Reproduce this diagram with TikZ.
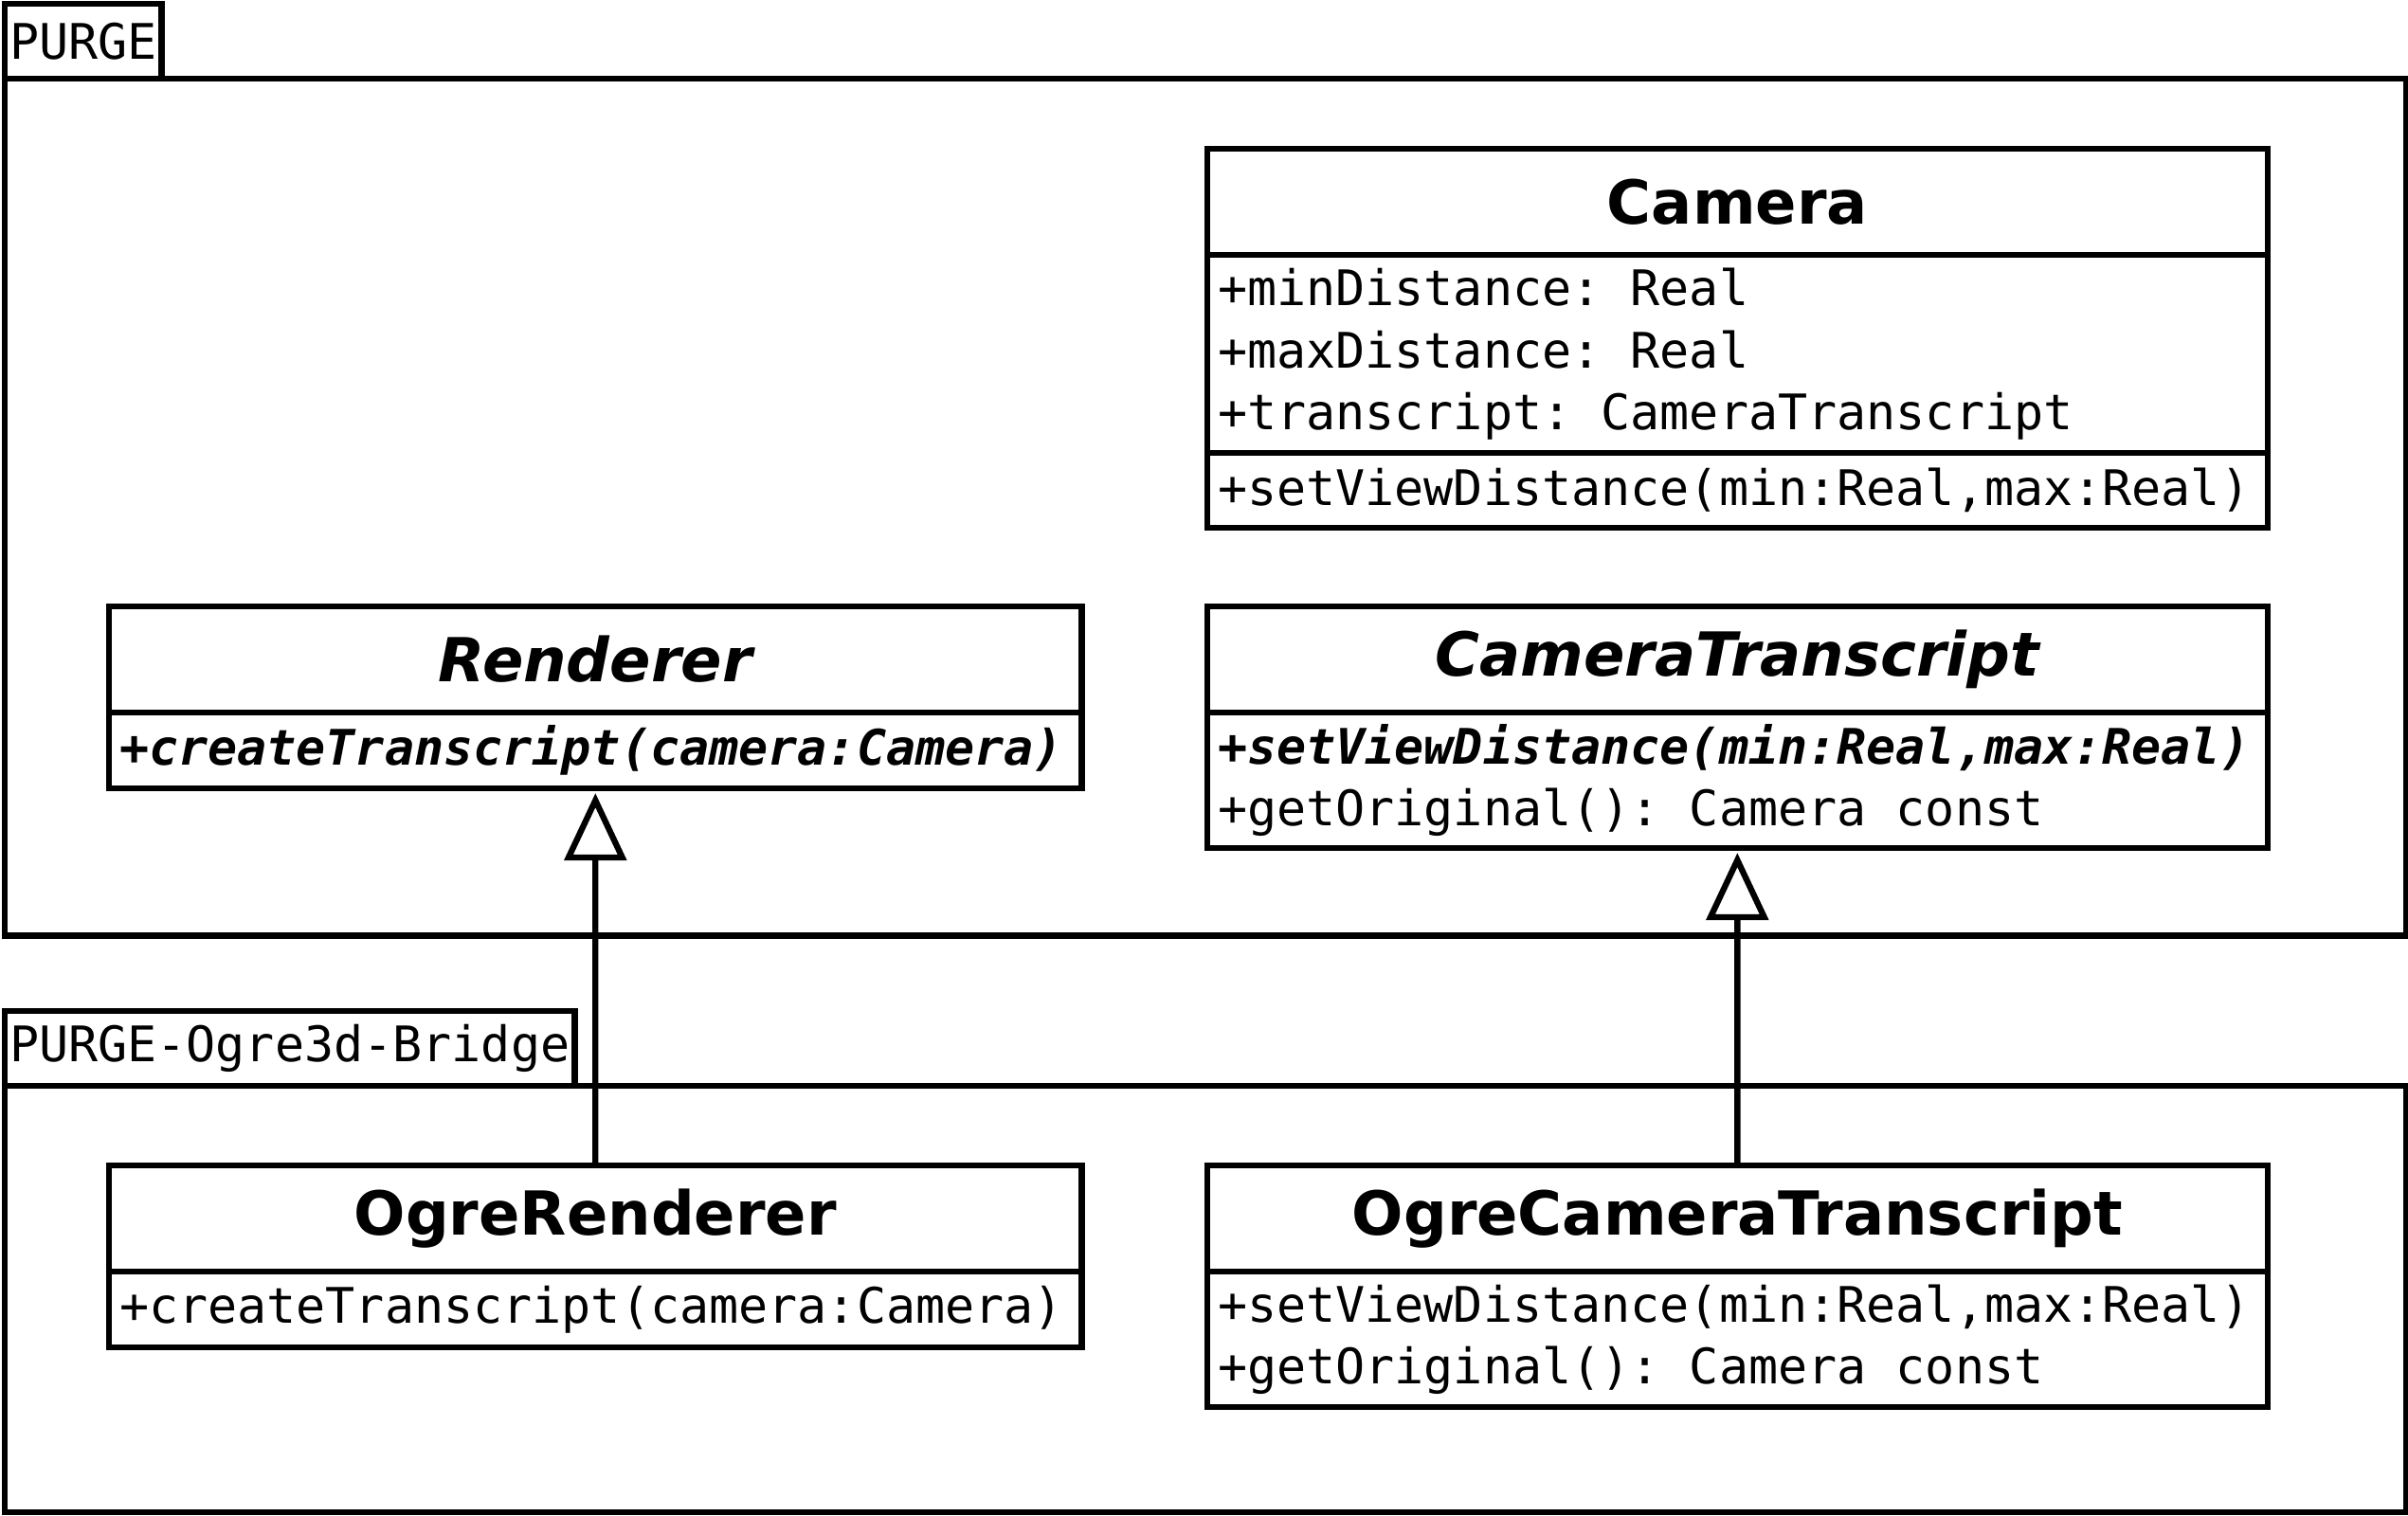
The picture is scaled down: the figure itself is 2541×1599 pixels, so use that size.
\documentclass[tikz,border=0pt]{standalone}
\usepackage{fontspec}
\newfontfamily\umlsans{DejaVu Sans}
\newfontfamily\umlmono{DejaVu Sans Mono}
\newcommand\monofont{\umlmono\fontsize{14.7}{18.5}\selectfont\frenchspacing}
\usetikzlibrary{arrows.meta}

\begin{document}
\begin{tikzpicture}[x=0.01cm,y=-0.01cm,line width=1.8pt,
  every node/.style={draw,rectangle,outer sep=0pt,anchor=north west,font=\monofont},
  pkgbody/.style={minimum width=25.33cm,inner sep=0pt},
  pkgtab/.style={anchor=south west,minimum height=0.79cm,inner xsep=0.05cm,inner ysep=0pt},
  head/.style={minimum height=1.12cm,inner sep=0pt,font=\umlsans\bfseries\fontsize{18.2}{22}\selectfont},
  abstracthead/.style={head,font=\umlsans\bfseries\itshape\fontsize{18.2}{22}\selectfont},
  memb/.style={align=left,inner xsep=0.11cm,inner ysep=0pt,
    execute at begin node={\spaceskip=0.602em\xspaceskip=0.602em\relax}},
  abstractop/.style={font=\monofont\bfseries\itshape},
  >={Triangle[open,width=0.65cm,length=0.71cm]},shorten >=0.05cm]
\useasboundingbox (0,0) rectangle (2541,1599);
% packages
\node[pkgbody,minimum height=9.04cm] (purge) at (5,83) {};
\node[pkgtab] (purgetab) at (purge.north west) {PURGE};
\node[pkgbody,minimum height=4.50cm] (bridge) at (5,1146) {};
\node[pkgtab] (bridgetab) at (bridge.north west) {PURGE-Ogre3d-Bridge};
% PURGE classes
\node[head,minimum width=11.18cm] (camera) at (1274,157) {Camera};
\node[memb,text width=10.96cm,minimum height=2.09cm] (cameraattr) at (camera.south west) {+minDistance: Real\\+maxDistance: Real\\+transcript: CameraTranscript};
\node[memb,text width=10.96cm,minimum height=0.79cm] (cameraops) at (cameraattr.south west) {+setViewDistance(min:Real,max:Real)};
\node[abstracthead,minimum width=10.26cm] (renderer) at (115,640) {Renderer};
\node[memb,abstractop,text width=10.04cm,minimum height=0.80cm] (rendererops) at (renderer.south west) {+createTranscript(camera:Camera)};
\node[abstracthead,minimum width=11.18cm] (transcript) at (1274,640) {CameraTranscript};
\node[memb,text width=10.96cm,minimum height=1.43cm] (transcriptops) at (transcript.south west) {{\bfseries\itshape +setViewDistance(min:Real,max:Real)}\\+getOriginal(): Camera const};
% bridge classes
\node[head,minimum width=10.26cm] (ogrerenderer) at (115,1230) {OgreRenderer};
\node[memb,text width=10.04cm,minimum height=0.80cm] (ogrerendererops) at (ogrerenderer.south west) {+createTranscript(camera:Camera)};
\node[head,minimum width=11.18cm] (ogretranscript) at (1274,1230) {OgreCameraTranscript};
\node[memb,text width=10.96cm,minimum height=1.43cm] (ogretranscriptops) at (ogretranscript.south west) {+setViewDistance(min:Real,max:Real)\\+getOriginal(): Camera const};
% generalisations
\draw[->] (ogrerenderer.north) -- (rendererops.south);
\draw[->] (ogretranscript.north) -- (transcriptops.south);
\end{tikzpicture}
\end{document}
